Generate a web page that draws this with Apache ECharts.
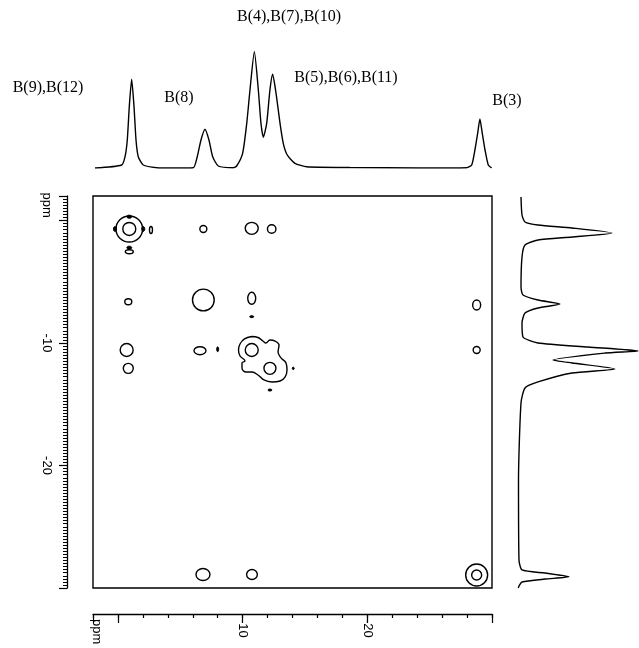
<!DOCTYPE html>
<html>
<head>
<meta charset="utf-8">
<script src="https://cdn.jsdelivr.net/npm/echarts@6.0.0/dist/echarts.min.js"></script>
<style>
html, body { margin: 0; padding: 0; background: #fff; }
#main { width: 639px; height: 648px; }
</style>
</head>
<body>
<div id="main"></div>
<script>
// 11B-11B COSY: F2 projection on top, F1 projection on the right (ppm)
var topTrace = [
    [1.84, 0], [-0.30, 3], [-0.57, 11.3], [-0.75, 28], [-0.91, 61.3], [-1.10, 88.7],
    [-1.29, 61.3], [-1.45, 28], [-1.63, 11.3], [-2.03, 3], [-3.11, 0.3], [-4.44, 0],
    [-6.04, 0.3], [-6.36, 11.3], [-6.66, 28], [-6.98, 38.7], [-7.30, 28], [-7.60, 11.3],
    [-8.05, 2], [-9.25, 0.3], [-9.52, 2], [-10.00, 14.7], [-10.33, 44.7], [-10.59, 78],
    [-10.94, 116.3], [-11.26, 78], [-11.47, 44.7], [-11.66, 30.7], [-11.93, 44.7],
    [-12.19, 78], [-12.41, 93.7], [-12.68, 74.7], [-13.00, 44.7], [-13.26, 24.7],
    [-13.58, 13], [-14.20, 4.7], [-15.14, 1.3], [-18.6, 0.5], [-24.2, 0],
    [-27.97, 0.3], [-28.37, 3], [-28.63, 18], [-28.85, 34.7], [-29.03, 49],
    [-29.22, 34.7], [-29.44, 18], [-29.70, 3], [-29.97, 0]
];

// [intensity, ppm]
var rightTrace = [
    [0, 1.92], [1, 0.45], [4, -0.12], [17, -0.37], [51, -0.61], [91, -1.02],
    [51, -1.35], [17, -1.59], [4, -2.0], [1, -2.98], [0, -5.43], [2, -6.08],
    [17, -6.49], [39, -6.82], [17, -7.14], [4, -7.55], [1, -8.37], [2, -9.51],
    [17, -10.0], [67, -10.33], [117, -10.65], [84, -10.82], [32, -11.39], [51, -11.63],
    [94, -12.12], [51, -12.45], [17, -13.18], [4, -13.67], [0, -14.9], [-2.5, -21.2],
    [-2, -27.71], [1, -28.53], [24, -28.78], [48, -29.08], [24, -29.27], [1, -29.51],
    [-2, -29.84], [-2.7, -30.0]
];

// contour rings: [F2 ppm, F1 ppm, width F2, width F1]
var contourRings = [
    [-0.91, -0.69, 2.14, 2.12], [-0.91, -0.69, 1.04, 1.06],
    [-2.65, -0.78, 0.24, 0.57], [-0.91, -2.55, 0.64, 0.33],
    [-6.85, -0.69, 0.56, 0.57], [-10.73, -0.64, 1.04, 0.98], [-12.33, -0.69, 0.68, 0.69],
    [-0.83, -6.63, 0.56, 0.49], [-6.85, -6.49, 1.74, 1.77], [-10.73, -6.35, 0.64, 0.98],
    [-0.70, -10.57, 1.04, 1.06], [-0.83, -12.07, 0.80, 0.82], [-6.58, -10.63, 0.96, 0.65],
    [-10.73, -10.57, 1.04, 1.06], [-12.19, -12.07, 0.96, 0.98],
    [-28.77, -6.9, 0.64, 0.82], [-28.77, -10.57, 0.56, 0.57],
    [-6.82, -28.9, 1.12, 0.98], [-10.75, -28.9, 0.86, 0.82],
    [-28.77, -28.94, 1.76, 1.80], [-28.77, -28.94, 0.80, 0.82]
];

// small negative-level blobs
var negBlobs = [
    [-0.91, 0.31, 0.4, 0.25], [0.24, -0.69, 0.24, 0.4], [-2.03, -0.69, 0.24, 0.4],
    [-0.91, -2.22, 0.4, 0.25], [-10.73, -7.85, 0.32, 0.16], [-8.0, -10.51, 0.16, 0.4],
    [-14.06, -12.07, 0.16, 0.2], [-12.19, -13.84, 0.32, 0.16]
];

// outer contour around B(4,7,10) / B(5,6,11) cluster
var clusterF2 = [-10.73, -11.23, -11.63, -11.87, -12.19, -12.6, -12.92, -12.84, -13.08, -13.48,
    -13.56, -13.4, -13.0, -12.35, -11.71, -11.23, -10.75, -10.27, -9.95, -9.95,
    -10.19, -9.79, -9.67, -9.79, -10.15, -10.73];
var clusterF1 = [-9.47, -9.55, -9.84, -10.0, -9.76, -9.84, -10.16, -10.73, -11.22, -11.63,
    -12.2, -12.78, -13.1, -13.18, -13.02, -12.61, -12.37, -12.37, -12.04, -11.63,
    -11.47, -11.06, -10.57, -10.08, -9.67, -9.47];

var peakLabels = ['B(9),B(12)', 'B(8)', 'B(4),B(7),B(10)', 'B(5),B(6),B(11)', 'B(3)'];

var f2TickValues = [1.75, -10, -20];
var f2TickLabels = ['ppm', '-10', '-20'];
var f1TickValues = [1.25, -10, -20];
var f1TickLabels = ['ppm', '-10', '-20'];

var myChart = echarts.init(document.getElementById('main'), null, { renderer: 'canvas' });

function pickLabel(values, labels) {
    return function (v) {
        for (var i = 0; i < values.length; i++) {
            if (Math.abs(values[i] - v) < 1e-6) return labels[i];
        }
        return '';
    };
}

function ellipseItem(filled) {
    return function (params, api) {
        var c = api.coord([api.value(0), api.value(1)]);
        var s = api.size([api.value(2), api.value(3)]);
        return {
            type: 'ellipse',
            shape: { cx: c[0], cy: c[1], rx: Math.abs(s[0]) / 2, ry: Math.abs(s[1]) / 2 },
            style: filled
                ? { fill: '#000', stroke: '#000', lineWidth: 1 }
                : { fill: 'none', stroke: '#000', lineWidth: 1.4 }
        };
    };
}

var ppmAxis = { type: 'value', min: -30, max: 2 };
var labelFont = { color: '#000', fontFamily: 'Liberation Sans', fontSize: 13 };
var textFont = '16px "Liberation Serif"';

function txt(str, x, y) {
    return {
        type: 'text', x: x, y: y,
        style: { text: str, font: textFont, fill: '#000', align: 'center', verticalAlign: 'middle',
                 textAlign: 'center', textVerticalAlign: 'middle' }
    };
}

var option = {
    animation: false,
    backgroundColor: '#fff',
    grid: [
        { left: 93, top: 48, width: 399, height: 120, outerBoundsMode: 'none' },               // top projection
        { left: 93, top: 196, width: 399, height: 392, show: true, borderColor: '#000',
          borderWidth: 1.4, backgroundColor: 'transparent', outerBoundsMode: 'none' },          // contour box
        { left: 516, top: 196, width: 123, height: 392, outerBoundsMode: 'none' }              // right projection
    ],
    xAxis: [
        Object.assign({}, ppmAxis, { gridIndex: 0, inverse: true, show: false }),
        Object.assign({}, ppmAxis, {
            gridIndex: 1, inverse: true, position: 'bottom', offset: 26, interval: 2,
            axisLine: { show: true, onZero: false, lineStyle: { color: '#000', width: 1.3 } },
            axisTick: { show: true, length: 4, lineStyle: { color: '#000', width: 1.2 } },
            axisLabel: { show: false }, splitLine: { show: false }
        }),
        Object.assign({}, ppmAxis, {
            gridIndex: 1, inverse: true, position: 'bottom', offset: 26, interval: 10,
            axisLine: { show: false, onZero: false },
            axisTick: { show: true, length: 9, lineStyle: { color: '#000', width: 1.2 } },
            axisLabel: { show: false }, splitLine: { show: false }
        }),
        Object.assign({}, ppmAxis, {
            gridIndex: 1, inverse: true, position: 'bottom', offset: 26, interval: 0.25,
            axisLine: { show: false, onZero: false }, axisTick: { show: false }, splitLine: { show: false },
            axisLabel: Object.assign({ show: true, interval: 0, rotate: -90, margin: 5,
                formatter: pickLabel(f2TickValues, f2TickLabels) }, labelFont)
        }),
        { type: 'value', gridIndex: 2, min: -5, max: 118, show: false }
    ],
    yAxis: [
        { type: 'value', gridIndex: 0, min: 0, max: 120, show: false },
        Object.assign({}, ppmAxis, {
            gridIndex: 1, position: 'left', offset: 26, interval: 0.25,
            axisLine: { show: true, onZero: false, lineStyle: { color: '#000', width: 1.3 } },
            axisTick: { show: true, length: 4, lineStyle: { color: '#000', width: 1 } },
            axisLabel: { show: false }, splitLine: { show: false }
        }),
        Object.assign({}, ppmAxis, {
            gridIndex: 1, position: 'left', offset: 26, interval: 10,
            axisLine: { show: false, onZero: false },
            axisTick: { show: true, length: 8, lineStyle: { color: '#000', width: 1.2 } },
            axisLabel: { show: false }, splitLine: { show: false }
        }),
        Object.assign({}, ppmAxis, {
            gridIndex: 1, position: 'left', offset: 26, interval: 0.25,
            axisLine: { show: false, onZero: false }, axisTick: { show: false }, splitLine: { show: false },
            axisLabel: Object.assign({ show: true, interval: 0, rotate: -90, margin: 14,
                formatter: pickLabel(f1TickValues, f1TickLabels) }, labelFont)
        }),
        Object.assign({}, ppmAxis, { gridIndex: 2, show: false })
    ],
    graphic: [
        txt(peakLabels[0], 48, 88),
        txt(peakLabels[1], 179, 98),
        txt(peakLabels[2], 289, 17),
        txt(peakLabels[3], 346, 78),
        txt(peakLabels[4], 507, 101)
    ],
    series: [
        {
            type: 'line', xAxisIndex: 0, yAxisIndex: 0, data: topTrace,
            showSymbol: false, smooth: 0.2,
            lineStyle: { color: '#000', width: 1.4 }
        },
        {
            type: 'line', xAxisIndex: 4, yAxisIndex: 4, data: rightTrace,
            showSymbol: false, smooth: 0.2,
            lineStyle: { color: '#000', width: 1.4 }
        },
        {
            type: 'custom', xAxisIndex: 1, yAxisIndex: 1, data: contourRings,
            encode: { x: 0, y: 1 }, renderItem: ellipseItem(false), silent: true
        },
        {
            type: 'custom', xAxisIndex: 1, yAxisIndex: 1, data: negBlobs,
            encode: { x: 0, y: 1 }, renderItem: ellipseItem(true), silent: true
        },
        {
            type: 'line', xAxisIndex: 1, yAxisIndex: 1,
            data: clusterF2.map(function (v, i) { return [v, clusterF1[i]]; }),
            showSymbol: false, smooth: 0.4,
            lineStyle: { color: '#000', width: 1.4 }
        }
    ]
};

myChart.setOption(option);
</script>
</body>
</html>
